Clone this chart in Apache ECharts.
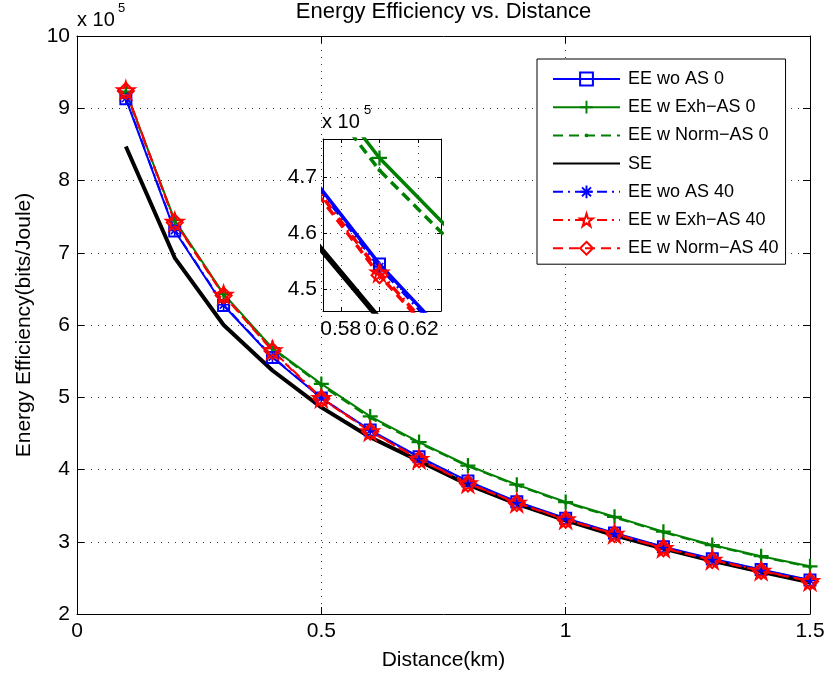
<!DOCTYPE html>
<html><head><meta charset="utf-8">
<script src="https://cdn.jsdelivr.net/npm/echarts@6/dist/echarts.min.js"></script>
<style>html,body{margin:0;padding:0;background:#fff}#c{width:830px;height:680px}</style>
</head><body><div id="c"></div>
<script>
// ---- data (values in units of 1e5 bits/Joule) ----
const distance   = [0.1, 0.2, 0.3, 0.4, 0.5, 0.6, 0.7, 0.8, 0.9, 1.0, 1.1, 1.2, 1.3, 1.4, 1.5];
const eeWoAS0    = [9.13, 7.30, 6.27, 5.55, 4.99, 4.545, 4.175, 3.84, 3.555, 3.325, 3.12, 2.93, 2.765, 2.615, 2.47];
const eeExhAS0   = [9.23, 7.45, 6.43, 5.68, 5.185, 4.735, 4.38, 4.055, 3.79, 3.55, 3.345, 3.14, 2.955, 2.80, 2.66];
const eeNormAS0  = [9.22, 7.44, 6.42, 5.67, 5.165, 4.713, 4.365, 4.045, 3.78, 3.54, 3.335, 3.13, 2.945, 2.79, 2.65];
const seVals     = [8.47, 6.93, 6.00, 5.37, 4.86, 4.447, 4.12, 3.79, 3.525, 3.295, 3.09, 2.905, 2.735, 2.585, 2.44];
const eeWoAS40   = [9.14, 7.31, 6.28, 5.56, 4.99, 4.54, 4.17, 3.835, 3.55, 3.32, 3.115, 2.925, 2.76, 2.61, 2.465];
const eeExhAS40  = [9.25, 7.43, 6.42, 5.65, 4.99, 4.53, 4.145, 3.81, 3.54, 3.31, 3.11, 2.915, 2.75, 2.60, 2.455];
const eeNormAS40 = [9.24, 7.42, 6.41, 5.64, 4.98, 4.525, 4.14, 3.805, 3.535, 3.305, 3.105, 2.91, 2.745, 2.595, 2.45];

const seriesNames = ['EE wo AS 0', 'EE w Exh\u2212AS 0', 'EE w Norm\u2212AS 0', 'SE',
                     'EE wo AS 40', 'EE w Exh\u2212AS 40', 'EE w Norm\u2212AS 40'];
const mainXRange = [0, 1.5], mainXStep = 0.5;
const mainYRange = [2, 10], mainYStep = 1;
const insetXRange = [0.5708, 0.6318], insetXStep = 0.02;
const insetYRange = [4.461, 4.769], insetYStep = 0.1;
const titleText = 'Energy Efficiency vs. Distance';
const xName = 'Distance(km)';
const yName = 'Energy Efficiency(bits/Joule)';

// ---- styling ----
const FONT = '"Liberation Sans", Arial, Helvetica, sans-serif';
const BLUE = '#0000ff', GREEN = '#008000', RED = '#ff0000', BLACK = '#000000';
const DASH = [10, 6], DASHDOT = [10, 5, 2, 5];
const PLUS = 'path://M-1.5,-10 L1.5,-10 L1.5,-1.5 L10,-1.5 L10,1.5 L1.5,1.5 L1.5,10 L-1.5,10 L-1.5,1.5 L-10,1.5 L-10,-1.5 L-1.5,-1.5 Z';
const DOT = 'path://M-10,-10 L-10,-10 Z M10,10 L10,10 Z M-3,0 A3,3 0 1,0 3,0 A3,3 0 1,0 -3,0 Z';
const ASTER = 'path://M-10,-1.5 L10,-1.5 L10,1.5 L-10,1.5 Z M-1.5,-10 L1.5,-10 L1.5,10 L-1.5,10 Z M-5.94,-8.06 L8.06,5.94 L5.94,8.06 L-8.06,-5.94 Z M-8.06,5.94 L5.94,-8.06 L8.06,-5.94 L-5.94,8.06 Z';
const STAR = 'path://M0,-10 L2.245,-3.09 L9.511,-3.09 L3.633,1.18 L5.878,8.09 L0,3.82 L-5.878,8.09 L-3.633,1.18 L-9.511,-3.09 L-2.245,-3.09 Z';
const CLEAR = 'rgba(0,0,0,0)';

const styles = [
  {vals: eeWoAS0,    color: BLUE,  type: 'solid', width: 2, symbol: 'rect',    size: 11, item: {color: CLEAR, borderColor: BLUE, borderWidth: 2}},
  {vals: eeExhAS0,   color: GREEN, type: 'solid', width: 2, symbol: PLUS,      size: 15, item: {color: GREEN}},
  {vals: eeNormAS0,  color: GREEN, type: DASH,    width: 2, symbol: DOT,       size: 14, item: {color: GREEN}},
  {vals: seVals,     color: BLACK, type: 'solid', width: 4, symbol: 'none',    size: 0,  item: {color: CLEAR}},
  {vals: eeWoAS40,   color: BLUE,  type: DASHDOT, width: 2, symbol: ASTER,     size: 11, item: {color: BLUE}},
  {vals: eeExhAS40,  color: RED,   type: DASHDOT, width: 2, symbol: STAR,      size: 17, item: {color: CLEAR, borderColor: RED, borderWidth: 2}},
  {vals: eeNormAS40, color: RED,   type: DASH,    width: 2, symbol: 'diamond', size: 16, item: {color: CLEAR, borderColor: RED, borderWidth: 2}}
];

function makeSeries(idx, inset) {
  const s = styles[idx];
  return {
    type: 'line', name: seriesNames[idx],
    data: distance.map((d, i) => [d, s.vals[i]]),
    xAxisIndex: inset ? 2 : 0, yAxisIndex: inset ? 2 : 0,
    symbol: s.symbol, symbolSize: s.size, showSymbol: s.symbol !== 'none',
    lineStyle: {color: s.color, width: inset ? s.width + 1.5 : s.width, type: s.type},
    itemStyle: s.item,
    clip: true, z: inset ? 12 : 2, silent: true,
    emphasis: {disabled: true}, animation: false
  };
}

const gridLine = {show: true, lineStyle: {color: '#3a3a3a', type: [1, 6], width: 1}};
const boxLine = {show: true, onZero: false, lineStyle: {color: BLACK, width: 1}};
const labelStyle = {color: BLACK, fontFamily: FONT, fontSize: 21};

function stepFormatter(step, digits) {
  return v => {
    const k = Math.round(v / step);
    return Math.abs(v - k * step) < 1e-7 ? String(+(k * step).toFixed(digits)) : '';
  };
}

const option = {
  backgroundColor: '#ffffff',
  animation: false,
  grid: [
    {left: 77, top: 36, right: 20, bottom: 66, show: false},
    {left: 323, top: 139, width: 118, height: 172, show: true, backgroundColor: '#ffffff', borderWidth: 0, z: 10}
  ],
  xAxis: [
    {gridIndex: 0, type: 'value', position: 'bottom', min: mainXRange[0], max: mainXRange[1], interval: mainXStep,
     axisLine: boxLine, axisTick: {show: true, inside: true, length: 7, lineStyle: {color: BLACK}},
     axisLabel: Object.assign({margin: 7}, labelStyle), splitLine: gridLine,
     name: xName, nameLocation: 'middle', nameGap: 36,
     nameTextStyle: {color: BLACK, fontFamily: FONT, fontSize: 21}},
    {gridIndex: 0, type: 'value', position: 'top', min: mainXRange[0], max: mainXRange[1], interval: mainXStep,
     axisLine: boxLine, axisTick: {show: true, inside: true, length: 7, lineStyle: {color: BLACK}},
     axisLabel: {show: false}, splitLine: {show: false}},
    {gridIndex: 1, type: 'value', position: 'bottom', min: insetXRange[0], max: insetXRange[1], splitNumber: 3,
     axisLine: boxLine, axisTick: {show: true, inside: true, length: 4, lineStyle: {color: BLACK}},
     axisLabel: Object.assign({margin: 8, formatter: stepFormatter(insetXStep, 2)}, labelStyle),
     splitLine: gridLine, z: 11},
    {gridIndex: 1, type: 'value', position: 'top', min: insetXRange[0], max: insetXRange[1], splitNumber: 3,
     axisLine: boxLine, axisTick: {show: true, inside: true, length: 4, lineStyle: {color: BLACK}},
     axisLabel: {show: false}, splitLine: {show: false}, z: 11}
  ],
  yAxis: [
    {gridIndex: 0, type: 'value', position: 'left', min: mainYRange[0], max: mainYRange[1], interval: mainYStep,
     axisLine: boxLine, axisTick: {show: true, inside: true, length: 7, lineStyle: {color: BLACK}},
     axisLabel: Object.assign({margin: 7}, labelStyle), splitLine: gridLine,
     name: yName, nameLocation: 'middle', nameGap: 42, nameRotate: 90,
     nameTextStyle: {color: BLACK, fontFamily: FONT, fontSize: 21}},
    {gridIndex: 0, type: 'value', position: 'right', min: mainYRange[0], max: mainYRange[1], interval: mainYStep,
     axisLine: boxLine, axisTick: {show: true, inside: true, length: 7, lineStyle: {color: BLACK}},
     axisLabel: {show: false}, splitLine: {show: false}},
    {gridIndex: 1, type: 'value', position: 'left', min: insetYRange[0], max: insetYRange[1], splitNumber: 3,
     axisLine: boxLine, axisTick: {show: true, inside: true, length: 4, lineStyle: {color: BLACK}},
     axisLabel: Object.assign({margin: 6, formatter: stepFormatter(insetYStep, 1)}, labelStyle),
     splitLine: gridLine, z: 11},
    {gridIndex: 1, type: 'value', position: 'right', min: insetYRange[0], max: insetYRange[1], splitNumber: 3,
     axisLine: boxLine, axisTick: {show: true, inside: true, length: 4, lineStyle: {color: BLACK}},
     axisLabel: {show: false}, splitLine: {show: false}, z: 11}
  ],
  legend: {
    orient: 'vertical', left: 537, top: 59,
    data: seriesNames,
    itemWidth: 67, itemHeight: 16, itemGap: 10.2,
    padding: [11, 7, 7, 15],
    borderColor: BLACK, borderWidth: 1, backgroundColor: '#ffffff',
    textStyle: {fontFamily: FONT, fontSize: 18, color: BLACK, padding: [0, 0, 0, 3], lineHeight: 16},
    selectedMode: false, z: 20
  },
  graphic: [
    {type: 'text', x: 443.5, y: 12, z: 30,
     style: {text: titleText, fill: BLACK, fontFamily: FONT, fontSize: 22, align: 'center', verticalAlign: 'middle'}},
    {type: 'text', x: 77, y: 20, z: 30,
     style: {text: 'x 10', fill: BLACK, fontFamily: FONT, fontSize: 20, align: 'left', verticalAlign: 'middle'}},
    {type: 'text', x: 118, y: 8, z: 30,
     style: {text: '5', fill: BLACK, fontFamily: FONT, fontSize: 13, align: 'left', verticalAlign: 'middle'}},
    {type: 'text', x: 322, y: 122, z: 30,
     style: {text: 'x 10', fill: BLACK, fontFamily: FONT, fontSize: 20, align: 'left', verticalAlign: 'middle'}},
    {type: 'text', x: 364, y: 110, z: 30,
     style: {text: '5', fill: BLACK, fontFamily: FONT, fontSize: 13, align: 'left', verticalAlign: 'middle'}}
  ],
  series: [0, 1, 2, 3, 4, 5, 6].map(i => makeSeries(i, false))
    .concat([0, 1, 2, 3, 4, 5, 6].map(i => makeSeries(i, true)))
};

const chart = echarts.init(document.getElementById('c'), null, {renderer: 'canvas'});
chart.setOption(option);
</script>
</body></html>
